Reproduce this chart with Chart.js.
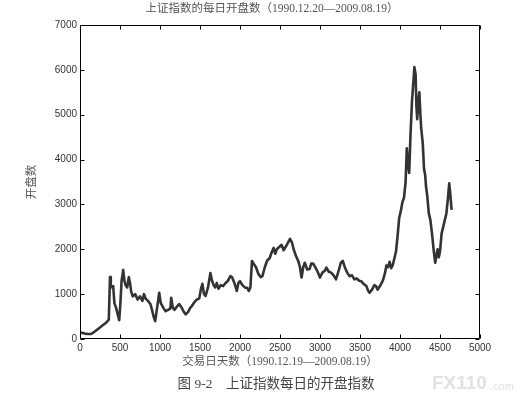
<!DOCTYPE html>
<html>
<head>
<meta charset="utf-8">
<script src="https://cdn.jsdelivr.net/npm/chart.js@4.4.0/dist/chart.umd.min.js"></script>
<style>
  html, body { margin: 0; padding: 0; background: #fff; }
  canvas { display: block; }
</style>
</head>
<body>
<canvas id="myChart" width="529" height="401"></canvas>
<script>
// trading day index (x) and daily opening value (y)
var days = [0, 20, 60, 100, 140, 180, 230, 280, 330, 360, 375, 385, 400, 415, 430, 450, 470, 490, 505, 520,
  540, 555, 570, 590, 610, 625, 640, 660, 690, 720, 750, 780, 800, 820, 850, 880, 900, 920, 940, 960,
  980, 990, 1010, 1040, 1070, 1100, 1130, 1140, 1160, 1180, 1210, 1240, 1270, 1300, 1320, 1350, 1380, 1400, 1430, 1460,
  1490, 1510, 1530, 1550, 1570, 1600, 1630, 1650, 1670, 1690, 1710, 1730, 1760, 1790, 1820, 1850, 1880, 1900, 1930, 1960,
  1980, 2000, 2030, 2060, 2090, 2110, 2130, 2150, 2170, 2200, 2230, 2260, 2280, 2310, 2340, 2370, 2400, 2420, 2440, 2460,
  2490, 2520, 2545, 2570, 2600, 2625, 2650, 2670, 2700, 2730, 2750, 2770, 2790, 2810, 2840, 2870, 2890, 2915, 2940, 2970,
  3000, 3030, 3060, 3080, 3110, 3140, 3170, 3200, 3230, 3260, 3285, 3310, 3340, 3370, 3400, 3430, 3460, 3490, 3520, 3550,
  3580, 3600, 3620, 3650, 3680, 3700, 3720, 3750, 3785, 3810, 3830, 3850, 3870, 3890, 3910, 3930, 3950, 3970, 3990, 4010,
  4030, 4050, 4070, 4085, 4100, 4115, 4130, 4150, 4170, 4180, 4195, 4205, 4215, 4230, 4242, 4255, 4265, 4285, 4300, 4315,
  4325, 4340, 4360, 4380, 4400, 4420, 4440, 4455, 4470, 4485, 4500, 4520, 4540, 4560, 4580, 4600, 4615, 4630, 4645];
var opens = [130, 140, 120, 110, 115, 160, 230, 300, 370, 430, 1380, 1200, 1150, 1180, 800, 700, 560, 420, 800, 1300,
  1540, 1300, 1200, 1150, 1380, 1250, 1050, 950, 1000, 880, 950, 850, 1000, 900, 850, 780, 650, 500, 400, 650,
  900, 1030, 800, 700, 620, 650, 680, 920, 700, 650, 720, 780, 700, 600, 550, 600, 700, 740, 820, 880,
  900, 1100, 1230, 1000, 960, 1150, 1470, 1300, 1200, 1150, 1250, 1120, 1200, 1180, 1250, 1300, 1400, 1380, 1250, 1070,
  1250, 1290, 1200, 1150, 1140, 1070, 1150, 1740, 1680, 1600, 1450, 1380, 1400, 1600, 1750, 1800, 1950, 2030, 1900, 2000,
  2050, 2100, 1980, 2050, 2150, 2230, 2150, 2000, 1850, 1730, 1600, 1370, 1600, 1700, 1550, 1560, 1680, 1680, 1600, 1500,
  1370, 1480, 1520, 1590, 1500, 1480, 1420, 1330, 1500, 1700, 1740, 1600, 1480, 1400, 1420, 1330, 1350, 1300, 1280, 1220,
  1180, 1080, 1030, 1100, 1200, 1180, 1100, 1180, 1300, 1450, 1640, 1600, 1720, 1580, 1650, 1800, 1950, 2300, 2700, 2850,
  3050, 3150, 3500, 4250, 3900, 3700, 4500, 5300, 5800, 6060, 5900, 5200, 4900, 5300, 5500, 5000, 4700, 4350, 3800, 3650,
  3400, 3200, 2800, 2650, 2350, 2000, 1700, 1850, 2000, 1820, 1950, 2350, 2500, 2650, 2800, 3150, 3470, 3200, 2880];
var xTicks = [0, 500, 1000, 1500, 2000, 2500, 3000, 3500, 4000, 4500, 5000];
var yTicks = [0, 1000, 2000, 3000, 4000, 5000, 6000, 7000];

var titleText = '上证指数的每日开盘数（1990.12.20—2009.08.19）';
var xTitle = '交易日天数（1990.12.19—2009.08.19）';
var yTitle = '开盘数';
var caption = '图 9-2    上证指数每日的开盘指数';

var serif = "'Liberation Serif', 'Noto Sans CJK SC', serif";

// frame, inward ticks on all four sides, title, caption and watermark
var decorations = {
  id: 'decorations',
  afterDraw: function (chart) {
    var c = chart.ctx, a = chart.chartArea;
    var xs = chart.scales.x, ys = chart.scales.y;
    var l = Math.round(a.left) + 0.5, r = Math.round(a.right) - 0.5;
    var t = Math.round(a.top) + 0.5, b = Math.round(a.bottom) - 0.5;
    c.save();
    c.strokeStyle = '#000';
    c.lineWidth = 1;
    c.beginPath();
    c.rect(l, t, r - l, b - t);
    xTicks.forEach(function (v) {
      var px = Math.round(xs.getPixelForValue(v)) + 0.5;
      c.moveTo(px, b); c.lineTo(px, b - 4);
      c.moveTo(px, t); c.lineTo(px, t + 4);
    });
    yTicks.forEach(function (v) {
      var py = Math.round(ys.getPixelForValue(v)) + 0.5;
      c.moveTo(l, py); c.lineTo(l + 4, py);
      c.moveTo(r, py); c.lineTo(r - 4, py);
    });
    c.stroke();

    c.fillStyle = '#555';
    c.textAlign = 'center';
    c.textBaseline = 'middle';
    c.font = '11.5px ' + serif;
    c.fillText(titleText, 272, 9);
    c.fillStyle = '#444';
    c.font = '13.5px ' + serif;
    c.fillText(caption, 276, 384);

    c.fillStyle = '#e2e2e2';
    c.textAlign = 'left';
    c.font = 'bold 19px "Liberation Sans", sans-serif';
    c.fillText('FX110', 432, 384);
    c.font = '11px "Liberation Sans", sans-serif';
    c.fillText('.com', 490, 387);
    c.restore();
  }
};

var plain = function (v) { return String(v); };

var ctx = document.getElementById('myChart').getContext('2d');
var chart = new Chart(ctx, {
  type: 'line',
  data: {
    datasets: [{
      label: yTitle,
      data: days.map(function (d, i) { return { x: d, y: opens[i] }; }),
      borderColor: '#333',
      borderWidth: 2.6,
      borderJoinStyle: 'round',
      pointRadius: 0,
      tension: 0,
      fill: false
    }]
  },
  options: {
    responsive: false,
    animation: false,
    devicePixelRatio: 1,
    layout: { padding: { top: 25, right: 49, bottom: 30, left: 0 } },
    plugins: {
      legend: { display: false },
      title: { display: false },
      tooltip: { enabled: false }
    },
    scales: {
      x: {
        type: 'linear',
        min: 0,
        max: 5000,
        afterFit: function (s) { s.height = 32; },
        afterBuildTicks: function (s) { s.ticks = xTicks.map(function (v) { return { value: v }; }); },
        grid: { display: false, drawTicks: false },
        border: { display: false },
        ticks: { color: '#333', padding: 3, maxRotation: 0, callback: plain, font: { family: 'Liberation Sans', size: 10 } },
        title: { display: true, text: xTitle, color: '#555', padding: { top: 0, bottom: 2 }, font: { family: serif, size: 11.5 } }
      },
      y: {
        min: 0,
        max: 7000,
        afterFit: function (s) { s.width = 80; },
        afterBuildTicks: function (s) { s.ticks = yTicks.map(function (v) { return { value: v }; }); },
        grid: { display: false, drawTicks: false },
        border: { display: false },
        ticks: { color: '#333', padding: 3, callback: plain, font: { family: 'Liberation Sans', size: 10 } },
        title: { display: true, text: yTitle, color: '#555', padding: { top: 25, bottom: 0 }, font: { family: serif, size: 11.5 } }
      }
    }
  },
  plugins: [decorations]
});
</script>
</body>
</html>
